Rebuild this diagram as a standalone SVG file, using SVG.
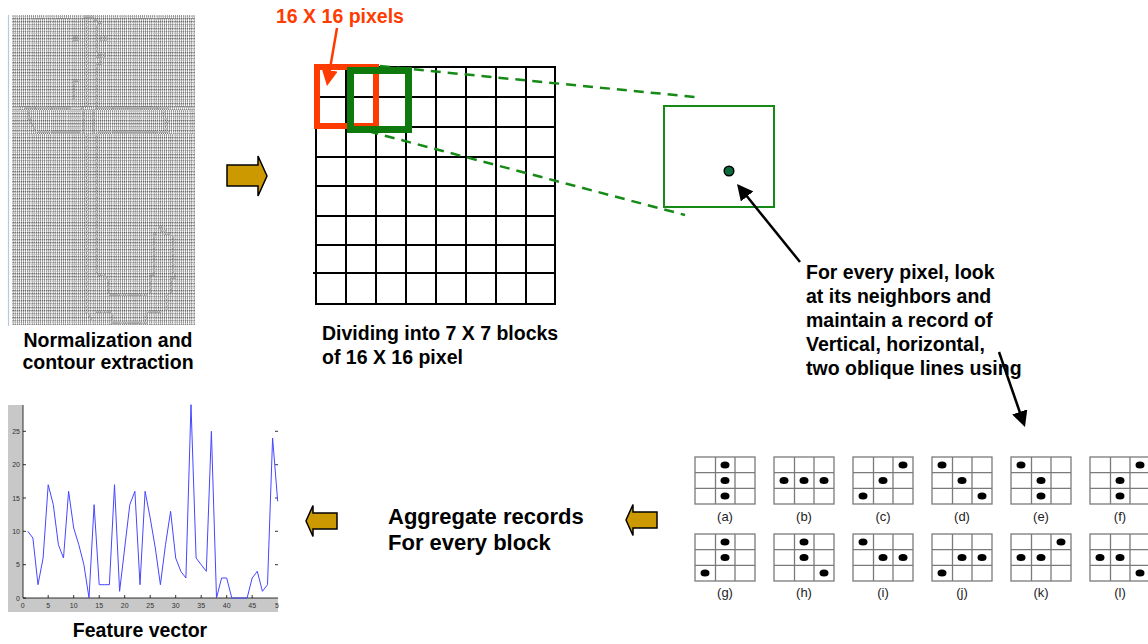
<svg xmlns="http://www.w3.org/2000/svg" xmlns:xlink="http://www.w3.org/1999/xlink" width="1148" height="644" viewBox="0 0 1148 644">
  <style>
    .bin { font-family: "Liberation Mono", "DejaVu Sans Mono", monospace; font-size: 4.7px; font-weight: bold; fill: #5a5a5a; }
    .lbl { font-family: "Liberation Sans", Arial, sans-serif; font-weight: bold; font-size: 19.5px; fill: #000; }
    .big { font-family: "Liberation Sans", Arial, sans-serif; font-weight: bold; font-size: 22px; fill: #000; }
    .red { fill: #ff3c00; }
    .grid line { stroke: #000; stroke-width: 2; }
    .pgrid { fill: none; stroke: #7a7a7a; stroke-width: 1.3; }
    .dot { fill: #000; }
    .plab { font-family: "Liberation Sans", Arial, sans-serif; font-size: 13px; fill: #222; text-anchor: middle; }
    .tick { font-family: "Liberation Sans", Arial, sans-serif; font-size: 7px; fill: #333; }
    .block-arrow { fill: #cc9900; stroke: #000; stroke-width: 1.5; stroke-linejoin: miter; }
    .dash { stroke: #168a16; stroke-width: 2.5; stroke-dasharray: 10 7; fill: none; }
  </style>
  <defs>
    <marker id="head-black" viewBox="0 0 16 16" markerWidth="16" markerHeight="16" refX="6" refY="8" orient="auto" markerUnits="userSpaceOnUse">
      <path d="M0,0 L16,8 L0,16 z" fill="#000"/>
    </marker>
    <marker id="head-red" viewBox="0 0 16 16" markerWidth="16" markerHeight="16" refX="6" refY="8" orient="auto" markerUnits="userSpaceOnUse">
      <path d="M0,0 L16,8 L0,16 z" fill="#ff3c00"/>
    </marker>
    <g id="grid3">
      <rect class="pgrid" x="0" y="0" width="60" height="47"/>
      <line class="pgrid" x1="20.5" y1="0" x2="20.5" y2="47"/>
      <line class="pgrid" x1="40" y1="0" x2="40" y2="47"/>
      <line class="pgrid" x1="0" y1="15.7" x2="60" y2="15.7"/>
      <line class="pgrid" x1="0" y1="31.3" x2="60" y2="31.3"/>
    </g>
    <clipPath id="plot-clip"><rect x="0" y="395" width="279" height="249"/></clipPath>
    <!-- render the tiny digit rows in neutral grey -->
    <filter id="mono" x="0" y="0" width="1" height="1">
      <feColorMatrix type="saturate" values="0"/>
    </filter>
  </defs>

  <rect width="1148" height="644" fill="#fff"/>

  <!-- normalized binary character, printed as rows of digits -->
  <g id="binary-image">
    <line x1="8.5" y1="15" x2="8.5" y2="326" stroke="#b9c8de" stroke-width="1.2"/>
    <g class="bin" filter="url(#mono)">
      <text x="12" y="18.5" textLength="183" lengthAdjust="spacingAndGlyphs">11111111111111111111111111111111111000001111111111111111111111111111111111111111111111111</text>
      <text x="12" y="21.9" textLength="183" lengthAdjust="spacingAndGlyphs">111111111111111111111111111111111110111001111111111111111111111111111111111111111111111</text>
      <text x="12" y="25.3" textLength="183" lengthAdjust="spacingAndGlyphs">111111111111111111111111111111111110111110011111111111111111111111111111111111111111111</text>
      <text x="12" y="28.7" textLength="183" lengthAdjust="spacingAndGlyphs">111111111111111111111111111111111110111101111111111111111111111111111111111111111111111</text>
      <text x="12" y="32.1" textLength="183" lengthAdjust="spacingAndGlyphs">111111111111111111111111111111111110111101111111111111111111111111111111111111111111111</text>
      <text x="12" y="35.5" textLength="183" lengthAdjust="spacingAndGlyphs">111111111111111111111111111111111110111101111111111111111111111111111111111111111111111</text>
      <text x="12" y="38.9" textLength="183" lengthAdjust="spacingAndGlyphs">111111111111111111111111111110001110111101000111111111111111111111111111111111111111111</text>
      <text x="12" y="42.3" textLength="183" lengthAdjust="spacingAndGlyphs">111111111111111111111111111110001110111101000111111111111111111111111111111111111111111</text>
      <text x="12" y="45.7" textLength="183" lengthAdjust="spacingAndGlyphs">111111111111111111111111111111111110111101111111111111111111111111111111111111111111111</text>
      <text x="12" y="49.1" textLength="183" lengthAdjust="spacingAndGlyphs">111111111111111111111111111111111110111101111111111111111111111111111111111111111111111</text>
      <text x="12" y="52.5" textLength="183" lengthAdjust="spacingAndGlyphs">111111111111111111111111111111111110111101111111111111111111111111111111111111111111111</text>
      <text x="12" y="55.9" textLength="183" lengthAdjust="spacingAndGlyphs">111111111111111111111111111111111110111110001111111111111111111111111111111111111111111</text>
      <text x="12" y="59.3" textLength="183" lengthAdjust="spacingAndGlyphs">111111111111111111111111111111111110111100001111111111111111111111111111111111111111111</text>
      <text x="12" y="62.7" textLength="183" lengthAdjust="spacingAndGlyphs">111111111111111111111111111111111110111111011111111111111111111111111111111111111111111</text>
      <text x="12" y="66.1" textLength="183" lengthAdjust="spacingAndGlyphs">111111111111111111111111111111111110111100011111111111111111111111111111111111111111111</text>
      <text x="12" y="69.5" textLength="183" lengthAdjust="spacingAndGlyphs">111111111111111111111111111111111110111101111111111111111111111111111111111111111111111</text>
      <text x="12" y="72.9" textLength="183" lengthAdjust="spacingAndGlyphs">111111111111111111111111111111111110111101111111111111111111111111111111111111111111111</text>
      <text x="12" y="76.3" textLength="183" lengthAdjust="spacingAndGlyphs">111111111111111111111111111111111110111101111111111111111111111111111111111111111111111</text>
      <text x="12" y="79.7" textLength="183" lengthAdjust="spacingAndGlyphs">111111111111111111111111111111111110111101111111111111111111111111111111111111111111111</text>
      <text x="12" y="83.1" textLength="183" lengthAdjust="spacingAndGlyphs">111111111111111111111111111110001110111101111111111111111111111111111111111111111111111</text>
      <text x="12" y="86.5" textLength="183" lengthAdjust="spacingAndGlyphs">111111111111111111111111111110111110111101111111111111111111111111111111111111111111111</text>
      <text x="12" y="89.9" textLength="183" lengthAdjust="spacingAndGlyphs">111111111111111111111111111110111110111101111111111111111111111111111111111111111111111</text>
      <text x="12" y="93.3" textLength="183" lengthAdjust="spacingAndGlyphs">111111111111111111111111111110111110111101111111111111111111111111111111111111111111111</text>
      <text x="12" y="96.7" textLength="183" lengthAdjust="spacingAndGlyphs">111111111111111111111111111110111110111101111111111111111111111111111111111111111111111</text>
      <text x="12" y="100.1" textLength="183" lengthAdjust="spacingAndGlyphs">111111111111111111111111111110111110111101111111111111111111111111111111111111111111111</text>
      <text x="12" y="103.5" textLength="183" lengthAdjust="spacingAndGlyphs">111111111111111111111111111111111110111101111111111111111111111111111111111111111111111</text>
      <text x="12" y="106.9" textLength="183" lengthAdjust="spacingAndGlyphs">111111111111111111111111111111111110111101111111111111111111111111111111111111111111111</text>
      <text x="12" y="110.3" textLength="183" lengthAdjust="spacingAndGlyphs">111111000000000000000000000000111110111111000000000000000000000000000000000000001111111111111</text>
      <text x="12" y="113.7" textLength="183" lengthAdjust="spacingAndGlyphs">111111110111111111111111111111111110111101111111111111111111111111111111110111111111111111</text>
      <text x="12" y="117.1" textLength="183" lengthAdjust="spacingAndGlyphs">111111110111111111111111111111111110111101111111111111111111111111111111110111111111111111</text>
      <text x="12" y="120.5" textLength="183" lengthAdjust="spacingAndGlyphs">111111110011111111111111111111111110111101111111111111111111111111111111111011111111111111</text>
      <text x="12" y="123.9" textLength="183" lengthAdjust="spacingAndGlyphs">111111111011111111111111111111111110111101111111111111111111111111111111111001111111111111</text>
      <text x="12" y="127.3" textLength="183" lengthAdjust="spacingAndGlyphs">111111111101111111111111111111111110111101111111111111111111111111111111111011111111111111</text>
      <text x="12" y="130.7" textLength="183" lengthAdjust="spacingAndGlyphs">111111111110111111111111111111111110111101111111111111111111111111111111111011111111111111</text>
      <text x="12" y="134.1" textLength="183" lengthAdjust="spacingAndGlyphs">111111111111000000000000000000000010111101000000000000000000000000000000000001111111111111</text>
      <text x="12" y="137.5" textLength="183" lengthAdjust="spacingAndGlyphs">111111111111111111111111111111111110111101111111111111111111111111111111111111111111111</text>
      <text x="12" y="140.9" textLength="183" lengthAdjust="spacingAndGlyphs">111111111111111111111111111111111110111101111111111111111111111111111111111111111111111</text>
      <text x="12" y="144.3" textLength="183" lengthAdjust="spacingAndGlyphs">111111111111111111111111111111111110111101111111111111111111111111111111111111111111111</text>
      <text x="12" y="147.7" textLength="183" lengthAdjust="spacingAndGlyphs">111111111111111111111111111111111110111101111111111111111111111111111111111111111111111</text>
      <text x="12" y="151.1" textLength="183" lengthAdjust="spacingAndGlyphs">111111111111111111111111111111111110111101111111111111111111111111111111111111111111111</text>
      <text x="12" y="154.5" textLength="183" lengthAdjust="spacingAndGlyphs">111111111111111111111111111111111110111101111111111111111111111111111111111111111111111</text>
      <text x="12" y="157.9" textLength="183" lengthAdjust="spacingAndGlyphs">111111111111111111111111111111111110111101111111111111111111111111111111111111111111111</text>
      <text x="12" y="161.3" textLength="183" lengthAdjust="spacingAndGlyphs">111111111111111111111111111111111110111101111111111111111111111111111111111111111111111</text>
      <text x="12" y="164.7" textLength="183" lengthAdjust="spacingAndGlyphs">111111111111111111111111111111111110111101111111111111111111111111111111111111111111111</text>
      <text x="12" y="168.1" textLength="183" lengthAdjust="spacingAndGlyphs">111111111111111111111111111111111110111101111111111111111111111111111111111111111111111</text>
      <text x="12" y="171.5" textLength="183" lengthAdjust="spacingAndGlyphs">111111111111111111111111111111111110111101111111111111111111111111111111111111111111111</text>
      <text x="12" y="174.9" textLength="183" lengthAdjust="spacingAndGlyphs">111111111111111111111111111111111110111101111111111111111111111111111111111111111111111</text>
      <text x="12" y="178.3" textLength="183" lengthAdjust="spacingAndGlyphs">111111111111111111111111111111111110111101111111111111111111111111111111111111111111111</text>
      <text x="12" y="181.7" textLength="183" lengthAdjust="spacingAndGlyphs">111111111111111111111111111111111110111101111111111111111111111111111111111111111111111</text>
      <text x="12" y="185.1" textLength="183" lengthAdjust="spacingAndGlyphs">111111111111111111111111111111111110111101111111111111111111111111111111111111111111111</text>
      <text x="12" y="188.5" textLength="183" lengthAdjust="spacingAndGlyphs">111111111111111111111111111111111110111101111111111111111111111111111111111111111111111</text>
      <text x="12" y="191.9" textLength="183" lengthAdjust="spacingAndGlyphs">111111111111111111111111111111111110111101111111111111111111111111111111111111111111111</text>
      <text x="12" y="195.3" textLength="183" lengthAdjust="spacingAndGlyphs">111111111111111111111111111111111110111101111111111111111111111111111111111111111111111</text>
      <text x="12" y="198.7" textLength="183" lengthAdjust="spacingAndGlyphs">111111111111111111111111111111111110111101111111111111111111111111111111111111111111111</text>
      <text x="12" y="202.1" textLength="183" lengthAdjust="spacingAndGlyphs">111111111111111111111111111111111110111101111111111111111111111111111111111111111111111</text>
      <text x="12" y="205.5" textLength="183" lengthAdjust="spacingAndGlyphs">111111111111111111111111111111111110111101111111111111111111111111111111111111111111111</text>
      <text x="12" y="208.9" textLength="183" lengthAdjust="spacingAndGlyphs">111111111111111111111111111111111110111101111111111111111111111111111111111111111111111</text>
      <text x="12" y="212.3" textLength="183" lengthAdjust="spacingAndGlyphs">111111111111111111111111111111111110111101111111111111111111111111111111111111111111111</text>
      <text x="12" y="215.7" textLength="183" lengthAdjust="spacingAndGlyphs">111111111111111111111111111111111110111101111111111111111111111111111111111111111111111</text>
      <text x="12" y="219.1" textLength="183" lengthAdjust="spacingAndGlyphs">111111111111111111111111111111111110111101111111111111111111111111111111111111111111111</text>
      <text x="12" y="222.5" textLength="183" lengthAdjust="spacingAndGlyphs">111111111111111111111111111111111110111101111111111111111111111111111111111111111111111</text>
      <text x="12" y="225.9" textLength="183" lengthAdjust="spacingAndGlyphs">111111111111111111111111111111111110111101111111111111111111111111111111111111111111111</text>
      <text x="12" y="229.3" textLength="183" lengthAdjust="spacingAndGlyphs">111111111111111111111111111111111110111101111111111111111111111111111100111111111111111</text>
      <text x="12" y="232.7" textLength="183" lengthAdjust="spacingAndGlyphs">111111111111111111111111111111111110111101111111111111111111111111111110011111111111111</text>
      <text x="12" y="236.1" textLength="183" lengthAdjust="spacingAndGlyphs">111111111111111111111111111111111110111101111111111111111111111111100111000111111111111</text>
      <text x="12" y="239.5" textLength="183" lengthAdjust="spacingAndGlyphs">111111111111111111111111111111111110111101111111111111111111111111101111111101111111111</text>
      <text x="12" y="242.9" textLength="183" lengthAdjust="spacingAndGlyphs">111111111111111111111111111111111110111101111111111111111111111111101111111101111111111</text>
      <text x="12" y="246.3" textLength="183" lengthAdjust="spacingAndGlyphs">111111111111111111111111111111111110111101111111111111111111111111101111111101111111111</text>
      <text x="12" y="249.7" textLength="183" lengthAdjust="spacingAndGlyphs">111111111111111111111111111111111110111101111111111111111111111111101111111101111111111</text>
      <text x="12" y="253.1" textLength="183" lengthAdjust="spacingAndGlyphs">111111111111111111111111111111111110111101111111111111111111111111101111111101111111111</text>
      <text x="12" y="256.5" textLength="183" lengthAdjust="spacingAndGlyphs">111111111111111111111111111111111110111101111111111111111111111111101111111101111111111</text>
      <text x="12" y="259.9" textLength="183" lengthAdjust="spacingAndGlyphs">111111111111111111111111111111111110111101111111111111111111111111101111111101111111111</text>
      <text x="12" y="263.3" textLength="183" lengthAdjust="spacingAndGlyphs">111111111111111111111111111111111110111101111111111111111111111111101111111101111111111</text>
      <text x="12" y="266.7" textLength="183" lengthAdjust="spacingAndGlyphs">111111111111111111111111111111111110111101111111111111111111111111101111111101111111111</text>
      <text x="12" y="270.1" textLength="183" lengthAdjust="spacingAndGlyphs">111111111111111111111111111111111110111101111111111111111111111111101111111101111111111</text>
      <text x="12" y="273.5" textLength="183" lengthAdjust="spacingAndGlyphs">111111111111111111111111111111111110111101111111111111111111111111101111111101111111111</text>
      <text x="12" y="276.9" textLength="183" lengthAdjust="spacingAndGlyphs">111111111111111111111111111111111110111110001111111111111111111110001111111110111111111</text>
      <text x="12" y="280.3" textLength="183" lengthAdjust="spacingAndGlyphs">111111111111111111111111111111111110111111110111111111111111111110111111111000111111111</text>
      <text x="12" y="283.7" textLength="183" lengthAdjust="spacingAndGlyphs">111111111111111111111111111111111110111111111011111111111111111110111111111011111111111</text>
      <text x="12" y="287.1" textLength="183" lengthAdjust="spacingAndGlyphs">111111111111111111111111111111111110111111111011111111111111111110111111111011111111111</text>
      <text x="12" y="290.5" textLength="183" lengthAdjust="spacingAndGlyphs">111111111111111111111111111111111110111111111011111111111111111110111111111011111111111</text>
      <text x="12" y="293.9" textLength="183" lengthAdjust="spacingAndGlyphs">111111111111111111111111111111111110111111111011111111111111111110111111111011111111111</text>
      <text x="12" y="297.3" textLength="183" lengthAdjust="spacingAndGlyphs">111111111111111111111111111111111110111111111100000000000000000011111111101111111111111</text>
      <text x="12" y="300.7" textLength="183" lengthAdjust="spacingAndGlyphs">111111111111111111111111111111111110111111111111111111111111111111111111101111111111111</text>
      <text x="12" y="304.1" textLength="183" lengthAdjust="spacingAndGlyphs">111111111111111111111111111111111110111111111111111111111111111111111111101111111111111</text>
      <text x="12" y="307.5" textLength="183" lengthAdjust="spacingAndGlyphs">111111111111111111111111111111111110111111111111111111111111111111111111101111111111111</text>
      <text x="12" y="310.9" textLength="183" lengthAdjust="spacingAndGlyphs">111111111111111111111111111111111110111111111111111111111111111111111111101111111111111</text>
      <text x="12" y="314.3" textLength="183" lengthAdjust="spacingAndGlyphs">111111111111111111111111111111111110111100000001111111111111111100000001111111111111111</text>
      <text x="12" y="317.7" textLength="183" lengthAdjust="spacingAndGlyphs">111111111111111111111111111111111111011111111110111111111111111011111111111111111111111</text>
      <text x="12" y="321.1" textLength="183" lengthAdjust="spacingAndGlyphs">111111111111111111111111111111111111101111111110111111111111111011111111111111111111111</text>
      <text x="12" y="324.5" textLength="183" lengthAdjust="spacingAndGlyphs">111111111111111111111111111111111111111111111110000000000000000011111111111111111111111</text>
    </g>
  </g>

  <!-- caption under the binary image -->
  <g id="caption-normalization">
    <text class="lbl" x="108" y="347" text-anchor="middle">Normalization and</text>
    <text class="lbl" x="108" y="369" text-anchor="middle">contour extraction</text>
  </g>

  <!-- block arrows -->
  <g id="arrow-right">
    <polygon class="block-arrow" points="227,165 258,165 258,156 267,176 258,196 258,186 227,186"/>
  </g>
  <g id="arrow-left-plot">
    <polygon class="block-arrow" points="337,513 313,513 313,505.5 306,521 313,536.5 313,529 337,529"/>
  </g>
  <g id="arrow-left-records">
    <polygon class="block-arrow" points="657,512 633,512 633,504.5 626,520 633,535.5 633,528 657,528"/>
  </g>

  <!-- 8 x 8 grid of blocks -->
  <g id="block-grid" class="grid">
    <line x1="316" y1="67" x2="316" y2="305"/>
    <line x1="346" y1="67" x2="346" y2="305"/>
    <line x1="376" y1="67" x2="376" y2="305"/>
    <line x1="406" y1="67" x2="406" y2="305"/>
    <line x1="436" y1="67" x2="436" y2="305"/>
    <line x1="466" y1="67" x2="466" y2="305"/>
    <line x1="496" y1="67" x2="496" y2="305"/>
    <line x1="526" y1="67" x2="526" y2="305"/>
    <line x1="555" y1="67" x2="555" y2="305"/>
    <line x1="315" y1="67" x2="556" y2="67"/>
    <line x1="315" y1="97" x2="556" y2="97"/>
    <line x1="315" y1="127" x2="556" y2="127"/>
    <line x1="315" y1="157" x2="556" y2="157"/>
    <line x1="315" y1="186" x2="556" y2="186"/>
    <line x1="315" y1="216" x2="556" y2="216"/>
    <line x1="315" y1="245" x2="556" y2="245"/>
    <line x1="313" y1="273" x2="556" y2="273"/>
    <line x1="315" y1="304" x2="556" y2="304"/>
  </g>
  <g id="caption-blocks">
    <text class="lbl" x="322" y="340">Dividing into 7 X 7 blocks</text>
    <text class="lbl" x="322" y="364">of 16 X 16 pixel</text>
  </g>

  <!-- enlarged block with a sample pixel -->
  <g id="zoom-block">
    <rect x="664" y="106" width="110" height="101" fill="none" stroke="#168a16" stroke-width="2"/>
    <circle cx="729" cy="171" r="4.8" fill="#0b6a3a" stroke="#000" stroke-width="1.5"/>
  </g>

  <g id="connectors">
    <line class="dash" x1="380" y1="66" x2="695" y2="97"/>
    <line class="dash" x1="352" y1="127" x2="685" y2="215"/>
    <line x1="337" y1="28" x2="328.7" y2="76.2" stroke="#ff3c00" stroke-width="2.5" marker-end="url(#head-red)"/>
    <line x1="800" y1="262" x2="743.3" y2="191.8" stroke="#000" stroke-width="2.5" marker-end="url(#head-black)"/>
    <line x1="999" y1="352" x2="1021.7" y2="417.6" stroke="#000" stroke-width="2.5" marker-end="url(#head-black)"/>
  </g>

  <!-- sliding 16 x 16 windows -->
  <g id="window-red">
    <rect x="317" y="67" width="59" height="59" fill="none" stroke="#ff3c00" stroke-width="6"/>
  </g>
  <g id="window-green">
    <rect x="350.5" y="70.5" width="58" height="59" fill="none" stroke="#0e7a0e" stroke-width="7"/>
  </g>
  <g id="label-window">
    <text class="lbl red" x="276" y="23">16 X 16 pixels</text>
  </g>

  <!-- description of the neighbourhood scan -->
  <g id="text-scan">
    <text class="lbl" x="806" y="279">For every pixel, look</text>
    <text class="lbl" x="806" y="303">at its neighbors and</text>
    <text class="lbl" x="806" y="327">maintain a record of</text>
    <text class="lbl" x="806" y="351">Vertical, horizontal,</text>
    <text class="lbl" x="806" y="375">two oblique lines using</text>
  </g>

  <!-- 3 x 3 neighbourhood patterns -->
  <g id="patterns">
    <g id="pattern-a" transform="translate(695,457)">
      <use xlink:href="#grid3"/>
      <ellipse class="dot" cx="30" cy="8" rx="4.5" ry="3.6"/>
      <ellipse class="dot" cx="30" cy="23.5" rx="4.5" ry="3.6"/>
      <ellipse class="dot" cx="30" cy="39" rx="4.5" ry="3.6"/>
      <text class="plab" x="30" y="64">(a)</text>
    </g>
    <g id="pattern-b" transform="translate(774,457)">
      <use xlink:href="#grid3"/>
      <ellipse class="dot" cx="10" cy="23.5" rx="4.5" ry="3.6"/>
      <ellipse class="dot" cx="30" cy="23.5" rx="4.5" ry="3.6"/>
      <ellipse class="dot" cx="50" cy="23.5" rx="4.5" ry="3.6"/>
      <text class="plab" x="30" y="64">(b)</text>
    </g>
    <g id="pattern-c" transform="translate(853,457)">
      <use xlink:href="#grid3"/>
      <ellipse class="dot" cx="50" cy="8" rx="4.5" ry="3.6"/>
      <ellipse class="dot" cx="30" cy="23.5" rx="4.5" ry="3.6"/>
      <ellipse class="dot" cx="10" cy="39" rx="4.5" ry="3.6"/>
      <text class="plab" x="30" y="64">(c)</text>
    </g>
    <g id="pattern-d" transform="translate(932,457)">
      <use xlink:href="#grid3"/>
      <ellipse class="dot" cx="10" cy="8" rx="4.5" ry="3.6"/>
      <ellipse class="dot" cx="30" cy="23.5" rx="4.5" ry="3.6"/>
      <ellipse class="dot" cx="50" cy="39" rx="4.5" ry="3.6"/>
      <text class="plab" x="30" y="64">(d)</text>
    </g>
    <g id="pattern-e" transform="translate(1011,457)">
      <use xlink:href="#grid3"/>
      <ellipse class="dot" cx="10" cy="8" rx="4.5" ry="3.6"/>
      <ellipse class="dot" cx="30" cy="23.5" rx="4.5" ry="3.6"/>
      <ellipse class="dot" cx="30" cy="39" rx="4.5" ry="3.6"/>
      <text class="plab" x="30" y="64">(e)</text>
    </g>
    <g id="pattern-f" transform="translate(1090,457)">
      <use xlink:href="#grid3"/>
      <ellipse class="dot" cx="50" cy="8" rx="4.5" ry="3.6"/>
      <ellipse class="dot" cx="30" cy="23.5" rx="4.5" ry="3.6"/>
      <ellipse class="dot" cx="30" cy="39" rx="4.5" ry="3.6"/>
      <text class="plab" x="30" y="64">(f)</text>
    </g>
    <g id="pattern-g" transform="translate(695,534)">
      <use xlink:href="#grid3"/>
      <ellipse class="dot" cx="30" cy="8" rx="4.5" ry="3.6"/>
      <ellipse class="dot" cx="30" cy="23.5" rx="4.5" ry="3.6"/>
      <ellipse class="dot" cx="10" cy="39" rx="4.5" ry="3.6"/>
      <text class="plab" x="30" y="63">(g)</text>
    </g>
    <g id="pattern-h" transform="translate(774,534)">
      <use xlink:href="#grid3"/>
      <ellipse class="dot" cx="30" cy="8" rx="4.5" ry="3.6"/>
      <ellipse class="dot" cx="30" cy="23.5" rx="4.5" ry="3.6"/>
      <ellipse class="dot" cx="50" cy="39" rx="4.5" ry="3.6"/>
      <text class="plab" x="30" y="63">(h)</text>
    </g>
    <g id="pattern-i" transform="translate(853,534)">
      <use xlink:href="#grid3"/>
      <ellipse class="dot" cx="10" cy="8" rx="4.5" ry="3.6"/>
      <ellipse class="dot" cx="30" cy="23.5" rx="4.5" ry="3.6"/>
      <ellipse class="dot" cx="50" cy="23.5" rx="4.5" ry="3.6"/>
      <text class="plab" x="30" y="63">(i)</text>
    </g>
    <g id="pattern-j" transform="translate(932,534)">
      <use xlink:href="#grid3"/>
      <ellipse class="dot" cx="30" cy="23.5" rx="4.5" ry="3.6"/>
      <ellipse class="dot" cx="50" cy="23.5" rx="4.5" ry="3.6"/>
      <ellipse class="dot" cx="10" cy="39" rx="4.5" ry="3.6"/>
      <text class="plab" x="30" y="63">(j)</text>
    </g>
    <g id="pattern-k" transform="translate(1011,534)">
      <use xlink:href="#grid3"/>
      <ellipse class="dot" cx="50" cy="8" rx="4.5" ry="3.6"/>
      <ellipse class="dot" cx="10" cy="23.5" rx="4.5" ry="3.6"/>
      <ellipse class="dot" cx="30" cy="23.5" rx="4.5" ry="3.6"/>
      <text class="plab" x="30" y="63">(k)</text>
    </g>
    <g id="pattern-l" transform="translate(1090,534)">
      <use xlink:href="#grid3"/>
      <ellipse class="dot" cx="10" cy="23.5" rx="4.5" ry="3.6"/>
      <ellipse class="dot" cx="30" cy="23.5" rx="4.5" ry="3.6"/>
      <ellipse class="dot" cx="50" cy="39" rx="4.5" ry="3.6"/>
      <text class="plab" x="30" y="63">(l)</text>
    </g>
  </g>

  <g id="caption-aggregate">
    <text class="big" x="388" y="524">Aggregate records</text>
    <text class="big" x="388" y="550">For every block</text>
  </g>

  <!-- feature vector plot -->
  <g id="feature-plot">
    <rect x="8" y="405" width="270" height="207" fill="#c8c8c8"/>
    <rect x="23" y="405" width="255" height="193" fill="#fff"/>
    <g stroke="#000" stroke-width="0.8" fill="none">
      <line x1="23" y1="405" x2="23" y2="598"/>
      <line x1="23" y1="598" x2="278" y2="598"/>
      <path d="M23,598h3M23,564.7h3M23,531.3h3M23,498h3M23,464.7h3M23,431.3h3"/>
      <path d="M278,564.7h-3M278,531.3h-3M278,498h-3M278,464.7h-3M278,431.3h-3"/>
      <path d="M48.2,598v-3M73.7,598v-3M99.2,598v-3M124.7,598v-3M150.2,598v-3M175.7,598v-3M201.2,598v-3M226.7,598v-3M252.2,598v-3"/>
    </g>
    <g class="tick" text-anchor="end">
      <text x="20" y="600.5">0</text>
      <text x="20" y="567.2">5</text>
      <text x="20" y="533.8">10</text>
      <text x="20" y="500.5">15</text>
      <text x="20" y="467.2">20</text>
      <text x="20" y="433.8">25</text>
    </g>
    <g class="tick" text-anchor="middle" clip-path="url(#plot-clip)">
      <text x="22.7" y="607.5">0</text>
      <text x="48.2" y="607.5">5</text>
      <text x="73.7" y="607.5">10</text>
      <text x="99.2" y="607.5">15</text>
      <text x="124.7" y="607.5">20</text>
      <text x="150.2" y="607.5">25</text>
      <text x="175.7" y="607.5">30</text>
      <text x="201.2" y="607.5">35</text>
      <text x="226.7" y="607.5">40</text>
      <text x="252.2" y="607.5">45</text>
      <text x="279" y="607.5">50</text>
    </g>
    <polyline fill="none" stroke="#4646ff" stroke-width="1" stroke-linejoin="round" points="27.8,531.3 32.9,538 38,584.7 43.1,558 48.2,484.7 53.3,504.7 58.4,544.7 63.5,558 68.6,491.3 73.7,528 78.8,544.7 83.9,564.7 89,598 94.1,504.7 99.2,584.7 104.3,584.7 109.4,584.7 114.5,484.7 119.6,591.3 124.7,548 129.8,504.7 134.9,491.3 140,584.7 145.1,491.3 150.2,518 155.3,548 160.4,584.7 165.5,544.7 170.6,511.3 175.7,558 180.8,571.3 185.9,578 191,404.7 196.1,558 201.2,564.7 206.3,571.3 211.4,431.3 216.5,598 221.6,578 226.7,578 231.8,598 236.9,598 242,598 247.1,598 252.2,578 257.3,571.3 262.4,591.3 267.5,584.7 272.6,438 277.7,501.3"/>
    <text class="lbl" x="140" y="637" text-anchor="middle">Feature vector</text>
  </g>
</svg>
